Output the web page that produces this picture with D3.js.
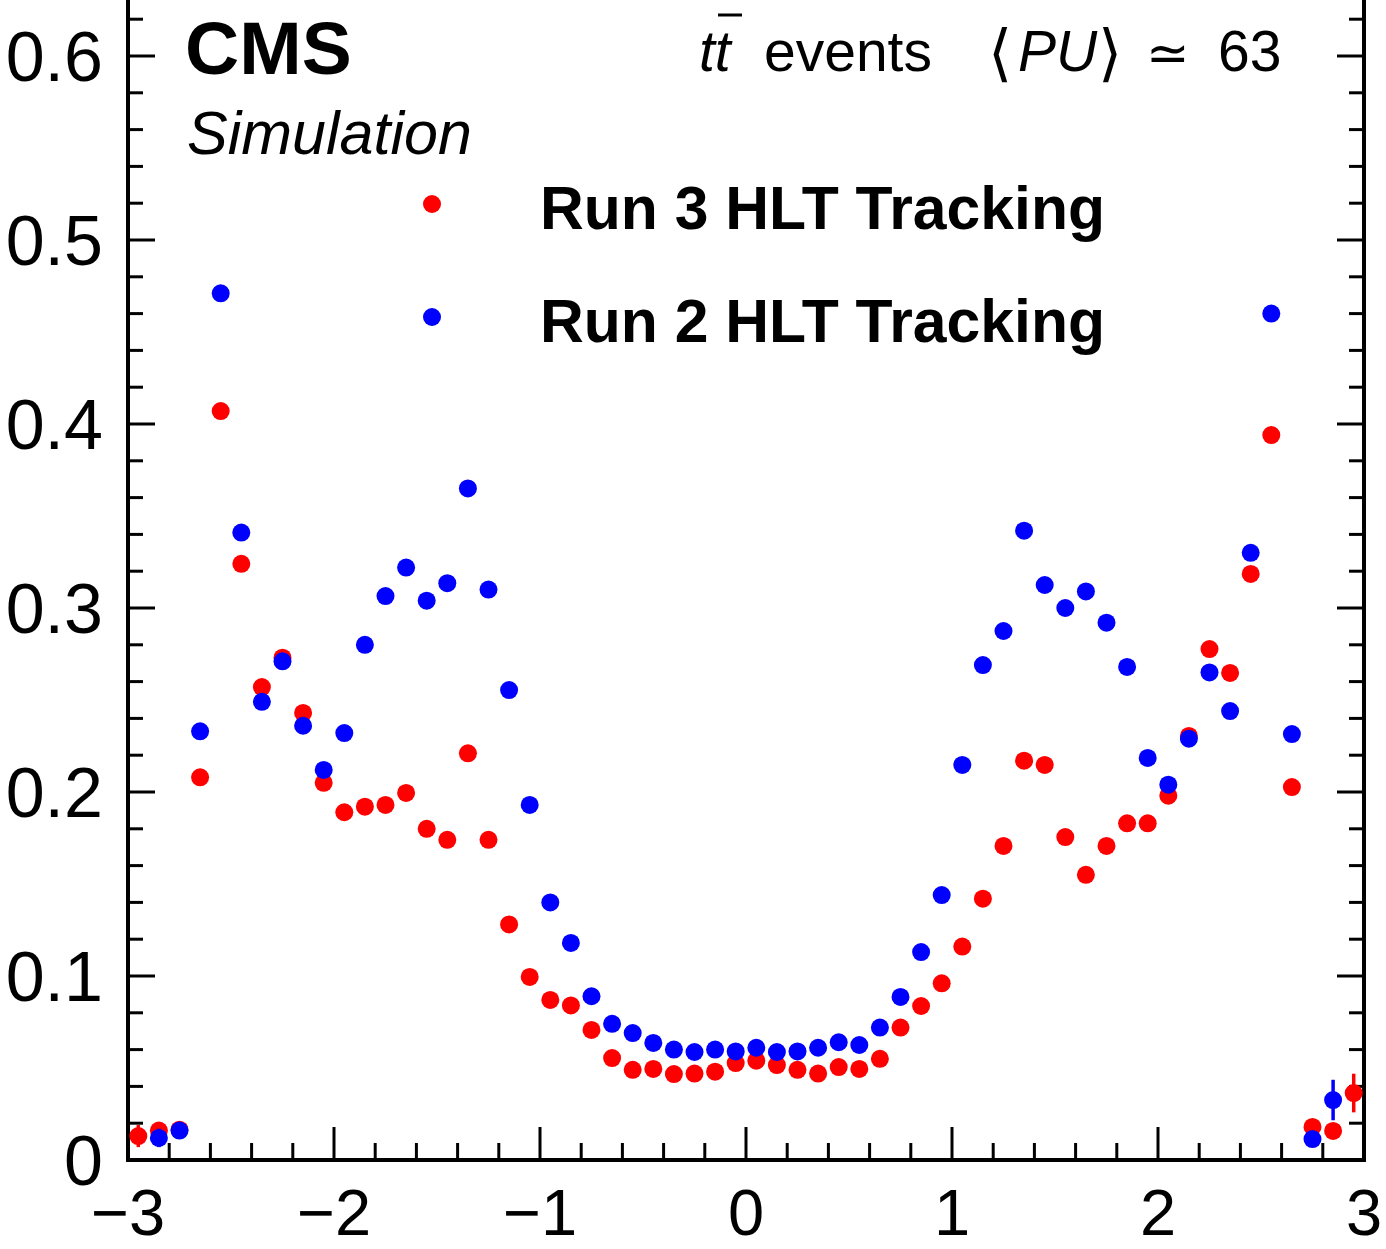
<!DOCTYPE html>
<html>
<head>
<meta charset="utf-8">
<script src="https://cdn.jsdelivr.net/npm/d3@7"></script>
<style>
  html, body { margin: 0; padding: 0; background: #fff; }
  svg { display: block; }
  text { font-family: "Liberation Sans", Arial, Helvetica, sans-serif; fill: #000; }
</style>
</head>
<body>
<svg id="chart" width="1386" height="1249"></svg>
<script>
// ---- data ----
const etaBins = [-2.95,-2.85,-2.75,-2.65,-2.55,-2.45,-2.35,-2.25,-2.15,-2.05,
  -1.95,-1.85,-1.75,-1.65,-1.55,-1.45,-1.35,-1.25,-1.15,-1.05,
  -0.95,-0.85,-0.75,-0.65,-0.55,-0.45,-0.35,-0.25,-0.15,-0.05,
  0.05,0.15,0.25,0.35,0.45,0.55,0.65,0.75,0.85,0.95,
  1.05,1.15,1.25,1.35,1.45,1.55,1.65,1.75,1.85,1.95,
  2.05,2.15,2.25,2.35,2.45,2.55,2.65,2.75,2.85,2.95];

const run3Values = [0.013,0.016,0.0165,0.208,0.407,0.324,0.257,0.273,0.243,0.205,
  0.189,0.192,0.193,0.1995,0.180,0.174,0.221,0.174,0.128,0.0995,
  0.087,0.084,0.0707,0.0554,0.049,0.0495,0.0467,0.047,0.048,0.0527,
  0.054,0.0516,0.049,0.047,0.0505,0.0495,0.055,0.072,0.0837,0.096,
  0.116,0.142,0.1707,0.217,0.2147,0.1755,0.155,0.1707,0.183,0.183,
  0.198,0.2305,0.2777,0.2647,0.3185,0.394,0.2027,0.018,0.0158,0.0364];

const run3Errors = [0.006,0.004,0.004,0.003,0.003,0.003,0.003,0.003,0.003,0.003,
  0.003,0.003,0.003,0.003,0.003,0.003,0.003,0.003,0.003,0.003,
  0.002,0.002,0.002,0.002,0.002,0.002,0.002,0.002,0.002,0.002,
  0.002,0.002,0.002,0.002,0.002,0.002,0.002,0.002,0.002,0.002,
  0.003,0.003,0.003,0.003,0.003,0.003,0.003,0.003,0.003,0.003,
  0.003,0.003,0.003,0.003,0.003,0.003,0.003,0.004,0.004,0.0105];

const run2Values = [null,0.012,0.016,0.233,0.471,0.341,0.249,0.271,0.236,0.212,
  0.232,0.280,0.3065,0.322,0.304,0.3135,0.365,0.310,0.2554,0.193,
  0.140,0.118,0.089,0.074,0.069,0.0636,0.060,0.0587,0.060,0.059,
  0.061,0.0587,0.059,0.061,0.064,0.0625,0.072,0.0886,0.113,0.144,
  0.2147,0.269,0.2875,0.342,0.3125,0.300,0.309,0.292,0.268,0.2185,
  0.204,0.229,0.265,0.244,0.330,0.460,0.2315,0.0114,0.0326,null];

const run2Errors = [0,0.005,0.004,0.003,0.003,0.003,0.003,0.003,0.003,0.003,
  0.003,0.003,0.003,0.003,0.003,0.003,0.003,0.003,0.003,0.003,
  0.002,0.002,0.002,0.002,0.002,0.002,0.002,0.002,0.002,0.002,
  0.002,0.002,0.002,0.002,0.002,0.002,0.002,0.002,0.002,0.002,
  0.003,0.003,0.003,0.003,0.003,0.003,0.003,0.003,0.003,0.003,
  0.003,0.003,0.003,0.003,0.003,0.003,0.003,0.004,0.011,0];

const xMajorTicks = [-3,-2,-1,0,1,2,3];
const xTickLabels = ["\u22123","\u22122","\u22121","0","1","2","3"];
const yMajorTicks = [0,0.1,0.2,0.3,0.4,0.5,0.6];
const yTickLabels = ["0","0.1","0.2","0.3","0.4","0.5","0.6"];
const seriesNames = ["Run 3 HLT Tracking","Run 2 HLT Tracking"];
const seriesColors = ["#ff0000","#0000ff"];

// ---- layout ----
const svg = d3.select("#chart");
const L = 128, R = 1364, B = 1160;
const x = d3.scaleLinear().domain([-3,3]).range([L,R]);
const y = d3.scaleLinear().domain([0,0.6]).range([B,56]);
const yTop = y(0.64);

const g = svg.append("g");

// axes ticks
const xMinor = d3.range(-3,3.0001,0.2).map(v=>+v.toFixed(2));
const yMinor = d3.range(0,0.6301,0.02).map(v=>+v.toFixed(3));
const isMajor = (v, step) => Math.abs(Math.round(v/step)*step - v) < 1e-6;

const tickG = g.append("g").attr("stroke","#000").attr("stroke-width",3);
xMinor.forEach(v=>{
  const len = isMajor(v,1) ? 33 : 17;
  tickG.append("line").attr("x1",x(v)).attr("x2",x(v)).attr("y1",B).attr("y2",B-len);
});
yMinor.forEach(v=>{
  const len = isMajor(v,0.1) ? 27 : 15;
  tickG.append("line").attr("x1",L).attr("x2",L+len).attr("y1",y(v)).attr("y2",y(v));
  tickG.append("line").attr("x1",R).attr("x2",R-len).attr("y1",y(v)).attr("y2",y(v));
});

// frame
g.append("rect").attr("x",L).attr("y",yTop).attr("width",R-L).attr("height",B-yTop)
  .attr("fill","none").attr("stroke","#000").attr("stroke-width",4);

// tick labels
g.selectAll(".xl").data(xMajorTicks).enter().append("text")
  .attr("x",d=>x(d)).attr("y",1235).attr("text-anchor","middle")
  .attr("font-size",65).text((d,i)=>xTickLabels[i]);
g.selectAll(".yl").data(yMajorTicks).enter().append("text")
  .attr("x",103).attr("y",d=>y(d)+25).attr("text-anchor","end")
  .attr("font-size",70).text((d,i)=>yTickLabels[i]);

// data
function drawSeries(vals, errs, color){
  const pts = etaBins.map((e,i)=>({x:e, v:vals[i], err:errs[i]})).filter(d=>d.v!==null);
  const sg = g.append("g");
  sg.selectAll("line").data(pts).enter().append("line")
    .attr("x1",d=>x(d.x)).attr("x2",d=>x(d.x))
    .attr("y1",d=>y(d.v-d.err)).attr("y2",d=>y(d.v+d.err))
    .attr("stroke",color).attr("stroke-width",3.5);
  sg.selectAll("circle").data(pts).enter().append("circle")
    .attr("cx",d=>x(d.x)).attr("cy",d=>y(d.v)).attr("r",9).attr("fill",color);
}
drawSeries(run3Values, run3Errors, seriesColors[0]);
drawSeries(run2Values, run2Errors, seriesColors[1]);

// CMS labels
g.append("text").attr("x",185).attr("y",74).attr("font-size",75).attr("font-weight","bold").text("CMS");
g.append("text").attr("x",187).attr("y",154).attr("font-size",61).attr("font-style","italic").text("Simulation");

// top-right label
const tg = g.append("g").attr("font-size",57);
tg.append("text").attr("x",699).attr("y",71).attr("font-style","italic").text("tt");
tg.append("line").attr("x1",718).attr("x2",742).attr("y1",15).attr("y2",15).attr("stroke","#000").attr("stroke-width",3);
tg.append("text").attr("x",764).attr("y",71).text("events");
tg.append("text").attr("x",988).attr("y",74).attr("font-family","DejaVu Sans").attr("font-size",62).text("\u27E8");
tg.append("text").attr("x",1018).attr("y",71).attr("font-style","italic").text("PU");
tg.append("text").attr("x",1098).attr("y",74).attr("font-family","DejaVu Sans").attr("font-size",62).text("\u27E9");
tg.append("text").attr("x",1146).attr("y",71).attr("font-family","DejaVu Sans").attr("font-size",52).text("\u2243");
tg.append("text").attr("x",1218).attr("y",71).text("63");

// legend
const legY = [204, 317];
seriesNames.forEach((name,i)=>{
  g.append("circle").attr("cx",432).attr("cy",legY[i]).attr("r",9).attr("fill",seriesColors[i]);
  g.append("text").attr("x",540).attr("y",legY[i]+25).attr("font-size",61).attr("font-weight","bold")
    .attr("textLength",565).attr("lengthAdjust","spacingAndGlyphs").text(name);
});
</script>
</body>
</html>
